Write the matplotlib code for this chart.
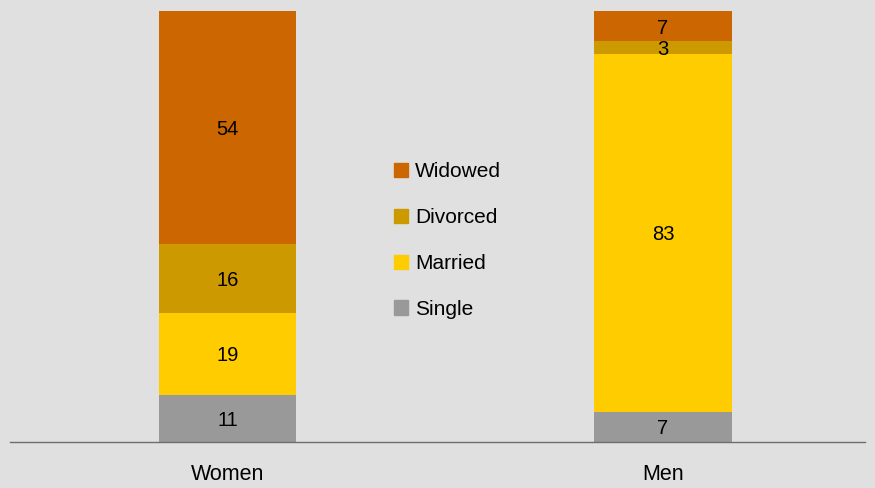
import matplotlib.pyplot as plt
from matplotlib.patches import Patch

plt.rcParams['font.family'] = ['Liberation Sans', 'DejaVu Sans']

groups = ['Women', 'Men']
statuses = ['Single', 'Married', 'Divorced', 'Widowed']
single = [11, 7]
married = [19, 83]
divorced = [16, 3]
widowed = [54, 7]
colors = ['#999999', '#FFCC00', '#CC9900', '#CC6600']

series = [single, married, divorced, widowed]

fig = plt.figure(figsize=(8.75, 4.88), dpi=100, facecolor='#E0E0E0')
ax = fig.add_axes([10 / 875, 46 / 488, 855 / 875, 431 / 488])
ax.set_facecolor('#E0E0E0')

x = [0, 1]
bottom = [0, 0]
for vals, col in zip(series, colors):
    ax.bar(x, vals, width=0.315, bottom=bottom, color=col, edgecolor='none')
    for xi, b, v in zip(x, bottom, vals):
        ax.text(xi, b + v / 2, str(v), ha='center', va='center_baseline', fontsize=14.5, color='black')
    bottom = [b + v for b, v in zip(bottom, vals)]

ax.set_xlim(-0.4994, 1.4638)
ax.set_ylim(0, 100)
ax.set_xticks(x)
ax.set_xticklabels(groups, fontsize=15.5)
ax.tick_params(axis='x', length=0, pad=16)
ax.set_yticks([])
for s in ['top', 'right', 'left']:
    ax.spines[s].set_visible(False)
ax.spines['bottom'].set_color('#6d6d6d')
ax.spines['bottom'].set_linewidth(1)

handles = [Patch(color=c, label=l) for c, l in zip(colors, statuses)][::-1]
fig.legend(handles=handles, loc='center left', bbox_to_anchor=(394 / 875, 1 - 240.5 / 488),
           frameon=False, fontsize=15, handlelength=0.67, handleheight=0.67,
           handletextpad=0.34, labelspacing=1.29, borderpad=0, borderaxespad=0)

fig.savefig('out.png', dpi=100, facecolor='#E0E0E0')
